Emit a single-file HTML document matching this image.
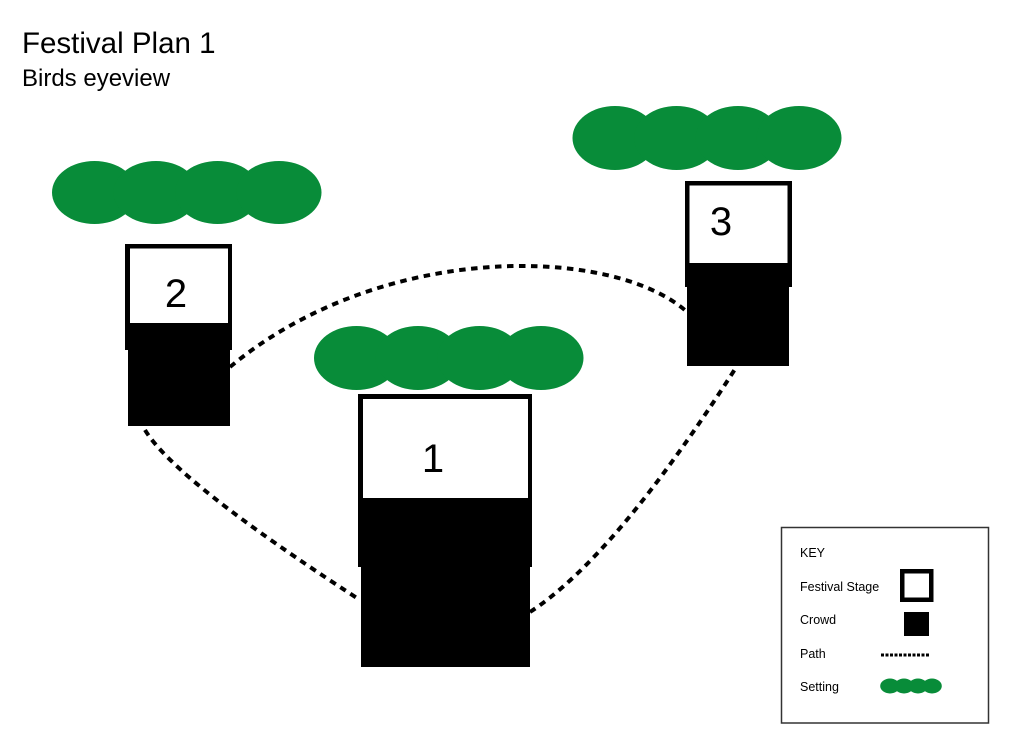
<!DOCTYPE html>
<html><head><meta charset="utf-8"><style>
html,body{margin:0;padding:0;background:#fff;}
svg{display:block;}
text{font-family:"Liberation Sans",sans-serif;fill:#000;}
</style></head><body>
<svg width="1024" height="752" viewBox="0 0 1024 752" xmlns="http://www.w3.org/2000/svg">
<rect x="0" y="0" width="1024" height="752" fill="#fff"/>
<text x="22" y="53" font-size="29.5">Festival Plan 1</text>
<text x="22" y="86" font-size="24">Birds eyeview</text>

<!-- paths -->
<g fill="none" stroke="#000" stroke-width="4" stroke-dasharray="6.5 5.5">
<path d="M230,367 C380,242 610,245 686,311"/>
<path d="M145,430 Q176,481 360,600"/>
<path d="M530,612 Q615,557 737,366"/>
</g>

<!-- trees -->
<g fill="#088c39">
<ellipse cx="94.5" cy="192.5" rx="42.5" ry="31.5"/>
<ellipse cx="156" cy="192.5" rx="42.5" ry="31.5"/>
<ellipse cx="217.5" cy="192.5" rx="42.5" ry="31.5"/>
<ellipse cx="279" cy="192.5" rx="42.5" ry="31.5"/>

<ellipse cx="356.5" cy="358" rx="42.5" ry="32"/>
<ellipse cx="418" cy="358" rx="42.5" ry="32"/>
<ellipse cx="479.5" cy="358" rx="42.5" ry="32"/>
<ellipse cx="541" cy="358" rx="42.5" ry="32"/>

<ellipse cx="615" cy="138" rx="42.5" ry="32"/>
<ellipse cx="676.5" cy="138" rx="42.5" ry="32"/>
<ellipse cx="738" cy="138" rx="42.5" ry="32"/>
<ellipse cx="799" cy="138" rx="42.5" ry="32"/>
</g>

<!-- stage 2 -->
<rect x="125" y="244" width="107" height="106" fill="#000"/>
<rect x="130" y="248.5" width="98" height="74.5" fill="#fff"/>
<rect x="128" y="350" width="102" height="76" fill="#000"/>
<text x="176" y="307" font-size="40" text-anchor="middle">2</text>

<!-- stage 1 -->
<rect x="358" y="394" width="174" height="173" fill="#000"/>
<rect x="363" y="399" width="165" height="99" fill="#fff"/>
<rect x="361" y="567" width="169" height="100" fill="#000"/>
<text x="433" y="472" font-size="40" text-anchor="middle">1</text>

<!-- stage 3 -->
<rect x="685" y="181" width="107" height="106" fill="#000"/>
<rect x="689.5" y="185.5" width="98" height="77.5" fill="#fff"/>
<rect x="687" y="287" width="102" height="79" fill="#000"/>
<text x="721" y="235" font-size="40" text-anchor="middle">3</text>

<!-- key -->
<rect x="781.5" y="527.5" width="207" height="195.5" fill="#fff" stroke="#333" stroke-width="1.5"/>
<text x="800" y="557" font-size="12.5">KEY</text>
<text x="800" y="591" font-size="12.5">Festival Stage</text>
<text x="800" y="624" font-size="12.5">Crowd</text>
<text x="800" y="658" font-size="12.5">Path</text>
<text x="800" y="691" font-size="12.5">Setting</text>
<rect x="900" y="569" width="33.5" height="33" fill="#000"/>
<rect x="904.5" y="573.5" width="24.5" height="24" fill="#fff"/>
<rect x="904" y="612" width="25" height="24" fill="#000"/>
<line x1="881" y1="655" x2="930" y2="655" stroke="#000" stroke-width="3" stroke-dasharray="3 1.5"/>
<g fill="#088c39">
<ellipse cx="890" cy="686" rx="9.8" ry="7.5"/>
<ellipse cx="904" cy="686" rx="9.8" ry="7.5"/>
<ellipse cx="918" cy="686" rx="9.8" ry="7.5"/>
<ellipse cx="932" cy="686" rx="9.8" ry="7.5"/>
</g>
</svg>
</body></html>
